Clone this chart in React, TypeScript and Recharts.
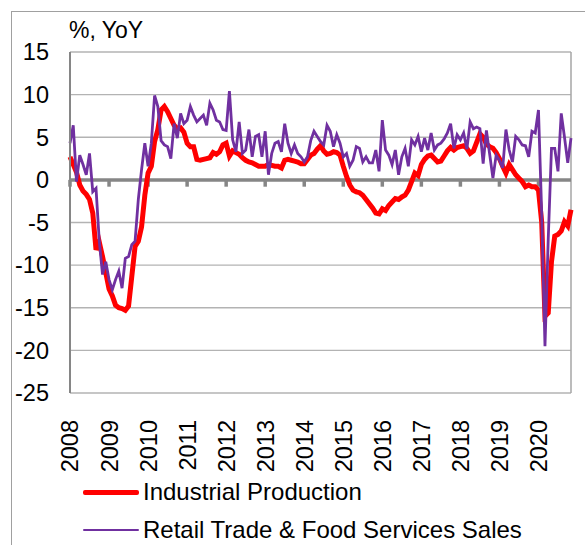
import React from 'react';
import { LineChart, Line, XAxis, YAxis, CartesianGrid, ReferenceLine, Legend } from 'recharts';

const years = ['2008','2009','2010','2011','2012','2013','2014','2015','2016','2017','2018','2019','2020'];
const yTicks = [-25, -20, -15, -10, -5, 0, 5, 10, 15];

const industrialProduction = [
  2.7, 1.8, 0.9, -0.6, -1.3, -1.7, -2.3, -3.9, -8.2, -7.3, -9.0, -10.9,
  -12.8, -13.6, -14.7, -15.0, -15.1, -15.3, -14.8, -11.3, -7.8, -7.2, -5.5, -1.8,
  0.8, 1.6, 4.5, 5.9, 8.2, 8.6, 8.0, 7.2, 6.4, 6.0, 6.1, 5.6,
  4.3, 3.9, 3.9, 2.4, 2.3, 2.4, 2.5, 2.6, 3.2, 3.0, 3.3, 4.1,
  4.3, 2.8, 3.4, 3.2, 3.0, 2.6, 2.3, 2.1, 2.0, 1.8, 1.6, 1.6,
  1.6, 1.8, 1.7, 1.6, 1.6, 1.4, 2.3, 2.4, 2.3, 2.2, 2.1, 1.9,
  1.9, 2.4, 2.9, 3.1, 3.6, 4.0, 3.4, 3.0, 3.1, 3.3, 3.2, 2.9,
  1.6, 0.4, -0.6, -1.2, -1.4, -1.5, -1.8, -2.3, -2.8, -3.3, -3.9, -4.0,
  -3.4, -3.6, -3.0, -2.6, -2.2, -2.3, -2.0, -1.8, -1.2, -0.2, 0.8, 0.5,
  1.8, 2.4, 2.8, 2.9, 2.5, 2.1, 2.2, 2.8, 3.4, 3.8, 3.5, 3.8,
  3.9, 4.0, 3.7, 3.1, 3.4, 4.4, 5.4, 5.0, 4.2, 3.9, 3.7, 3.2,
  2.5, 1.6, 0.8, 1.8, 1.2, 0.6, 0.2, -0.2, -0.8, -0.6, -0.8, -0.8,
  -1.2, -5.0, -16.0, -15.6, -9.6, -6.6, -6.4, -6.0, -4.9, -5.4, -3.5,
];

const retailSales = [
  4.3, 6.4, -0.2, 2.9, 1.8, 0.6, 3.1, -1.4, -1.0, -7.2, -11.1, -9.6,
  -11.7, -12.9, -11.7, -10.7, -12.7, -9.2, -9.0, -7.6, -7.2, -2.3, 1.2, 4.3,
  1.6, 4.3, 9.9, 8.6, 4.6, 4.1, 3.9, 2.5, 6.6, 4.9, 7.8, 6.6,
  7.0, 8.6, 7.6, 6.8, 7.2, 7.6, 6.4, 9.0, 8.2, 7.0, 6.8, 5.9,
  5.8, 10.4, 4.7, 3.3, 6.8, 3.1, 3.5, 5.9, 2.7, 5.1, 5.3, 2.7,
  5.7, 0.6, 3.1, 4.3, 4.5, 3.3, 6.6, 4.3, 3.1, 4.1, 3.1, 2.7,
  2.1, 2.7, 4.6, 5.7, 5.1, 4.5, 4.1, 6.4, 5.7, 3.9, 5.3, 4.3,
  2.7, 3.1, 1.6, 2.3, 3.9, 3.7, 2.1, 2.7, 2.0, 2.0, 3.5, 1.0,
  7.0, 3.5, 2.9, 1.8, 3.5, 0.6, 2.7, 3.7, 1.6, 4.7, 4.1, 5.1,
  3.3, 4.9, 3.5, 5.5, 3.5, 4.1, 4.3, 4.8, 5.5, 6.6, 3.7, 5.3,
  4.7, 5.5, 3.6, 6.8, 6.0, 6.2, 6.0, 1.9, 5.8, 3.0, 0.2, 2.9,
  2.3, 1.4, 5.9, 3.5, 2.1, 5.1, 4.7, 4.1, 4.0, 2.7, 5.7, 5.5,
  8.2, -4.0, -19.5, -7.0, 3.7, 3.7, 1.0, 7.8, 5.0, 2.0, 4.9,
];

const seriesNames = ['Industrial Production', 'Retail Trade & Food Services Sales'];
const seriesColors = ['#FF0000', '#7030A0'];
const seriesWidths = [5, 2.8];

const data = industrialProduction.map((v, i) => ({ i, ip: v, retail: retailSales[i] }));
const lastIndex = data.length - 1;
const yearTicks = years.map((_, k) => k * 12);

const FONT = '"Liberation Sans", Arial, sans-serif';

const YearTick = (props: any) => {
  const { x, y, payload } = props;
  const label = years[Math.round(payload.value / 12)];
  return (
    <g transform={`translate(${x},${y + 27})`}>
      <text x={0} y={0} dy="0.36em" textAnchor="end" transform="rotate(-90)" fill="#000" fontSize={23.5} fontFamily={FONT}>
        {label}
      </text>
    </g>
  );
};

const LegendContent = () => (
  <div style={{ fontFamily: FONT, fontSize: 24, color: '#000' }}>
    {seriesNames.map((name, k) => (
      <div key={name} style={{ display: 'flex', alignItems: 'center', height: 38 }}>
        <span style={{ display: 'inline-block', width: 56, height: seriesWidths[k], background: seriesColors[k], borderRadius: 2 }} />
        <span style={{ marginLeft: 4, whiteSpace: 'nowrap' }}>{name}</span>
      </div>
    ))}
  </div>
);

export default function App() {
  return (
    <div style={{ position: 'absolute', left: 0, top: 0, width: 585, height: 545, background: '#fff', overflow: 'hidden' }}>
      <div style={{ position: 'absolute', left: 11, top: 11, width: 574, height: 534, borderLeft: '1.5px solid #a0a0a0', borderTop: '1.5px solid #a0a0a0' }} />
      <div style={{ position: 'absolute', left: 69, top: 16, fontFamily: FONT, fontSize: 23, lineHeight: '28px', color: '#000' }}>%, YoY</div>
      <div style={{ position: 'absolute', left: 0, top: 0 }}>
        <LineChart width={585} height={545} data={data} margin={{ top: 52, right: 14, bottom: 52, left: 10 }}>
          <CartesianGrid vertical={false} stroke="#b3b3b3" strokeWidth={1.3} />
          <XAxis
            dataKey="i"
            type="number"
            domain={[0, lastIndex]}
            ticks={yearTicks}
            interval={0}
            height={100}
            axisLine={false}
            tickLine={false}
            tickSize={0}
            tickMargin={0}
            tick={<YearTick />}
          />
          <YAxis
            domain={[-25, 15]}
            ticks={yTicks}
            interval={0}
            width={60}
            axisLine={{ stroke: '#868686', strokeWidth: 2 }}
            tickLine={false}
            tickSize={0}
            tickMargin={21}
            tick={{ fill: '#000', fontSize: 23.5, fontFamily: FONT }}
          />
          <ReferenceLine x={lastIndex} stroke="#a6a6a6" strokeWidth={1.5} />
          <ReferenceLine y={0} stroke="#868686" strokeWidth={3.5} />
          {yearTicks.map((t) => (
            <ReferenceLine key={t} segment={[{ x: t, y: 0 }, { x: t, y: -0.8 }]} stroke="#868686" strokeWidth={3.5} />
          ))}
          <Line type="linear" dataKey="ip" name={seriesNames[0]} stroke={seriesColors[0]} strokeWidth={seriesWidths[0]} dot={false} isAnimationActive={false} />
          <Line type="linear" dataKey="retail" name={seriesNames[1]} stroke={seriesColors[1]} strokeWidth={seriesWidths[1]} dot={false} isAnimationActive={false} />
          <Legend layout="vertical" align="center" verticalAlign="middle" content={<LegendContent />} wrapperStyle={{ left: 83, top: 473, width: 490 }} />
        </LineChart>
      </div>
    </div>
  );
}
